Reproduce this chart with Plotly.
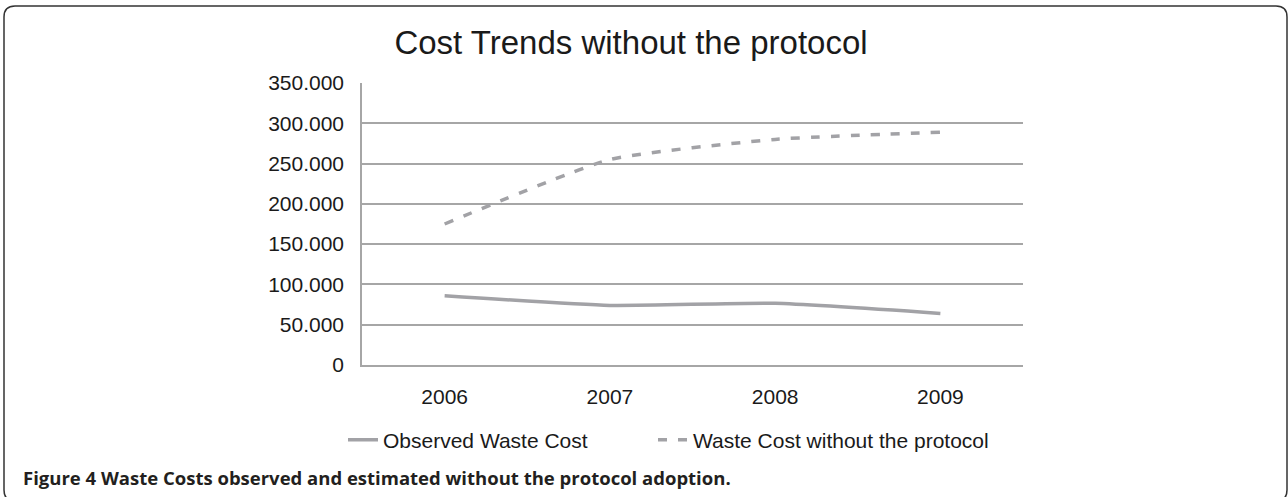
import plotly.graph_objects as go

years = ["2006", "2007", "2008", "2009"]
observed = [86000, 74000, 76500, 64000]
without_protocol = [175000, 255000, 280000, 289000]
y_ticks = [0, 50000, 100000, 150000, 200000, 250000, 300000, 350000]
y_tick_labels = ["0", "50.000", "100.000", "150.000", "200.000", "250.000", "300.000", "350.000"]

W, H = 1288, 497
L, R, T, B = 362, 265, 83, 132
pw, ph = W - L - R, H - T - B

def px(x):
    return (x - L) / pw

def py(y):
    return (H - B - y) / ph

gray = "#a2a2a6"
grid = "#a6a6a6"
font = "Liberation Sans, Arial, sans-serif"

fig = go.Figure()
fig.add_trace(go.Scatter(x=years, y=observed, name="Observed Waste Cost", mode="lines",
                         line=dict(color=gray, width=3.5, shape="spline", smoothing=0.5),
                         legend="legend"))
fig.add_trace(go.Scatter(x=years, y=without_protocol, name="Waste Cost without the protocol", mode="lines",
                         line=dict(color=gray, width=3.5, dash="9px,11px", shape="spline", smoothing=0.5),
                         legend="legend2"))

# rounded outer frame
x0, x1, y0, y1, r = 4, 1287, 6, 501, 11
path = (f"M {px(x0+r)},{py(y0)} L {px(x1-r)},{py(y0)} Q {px(x1)},{py(y0)} {px(x1)},{py(y0+r)} "
        f"L {px(x1)},{py(y1-r)} Q {px(x1)},{py(y1)} {px(x1-r)},{py(y1)} "
        f"L {px(x0+r)},{py(y1)} Q {px(x0)},{py(y1)} {px(x0)},{py(y1-r)} "
        f"L {px(x0)},{py(y0+r)} Q {px(x0)},{py(y0)} {px(x0+r)},{py(y0)} Z")
fig.add_shape(type="path", path=path, xref="paper", yref="paper",
              line=dict(color="#333333", width=1.5), layer="above")

fig.add_annotation(text="<b>Figure 4 Waste Costs observed and estimated without the protocol adoption.</b>",
                   xref="paper", yref="paper", x=px(21), y=py(477), xanchor="left", yanchor="middle",
                   showarrow=False, font=dict(family="Open Sans, sans-serif", size=18.5, color="#231f20"))

legend_common = dict(orientation="h", xanchor="left", yanchor="middle", y=py(440),
                     font=dict(family=font, size=21, color="#1a1a1a"), bgcolor="rgba(0,0,0,0)")

fig.update_layout(
    width=W, height=H,
    margin=dict(l=L, r=R, t=T, b=B, pad=0),
    paper_bgcolor="white", plot_bgcolor="white",
    title=dict(text="Cost Trends without the protocol", x=px(631), xref="paper", xanchor="center",
               y=1 - 42 / H, yanchor="middle", font=dict(family=font, size=33, color="#1a1a1a")),
    font=dict(family=font, size=21, color="#1a1a1a"),
    showlegend=True,
    legend=dict(x=px(343), **legend_common),
    legend2=dict(x=px(653), **legend_common),
)
fig.update_xaxes(type="category", range=[-0.5, 3.5], showgrid=False, showline=True, linecolor=grid,
                 linewidth=1.5, ticks="", ticklabelstandoff=12, tickfont=dict(size=21))
fig.update_yaxes(range=[0, 350000], tickvals=y_ticks, ticktext=y_tick_labels, showgrid=True,
                 gridcolor=grid, gridwidth=1.5, showline=True, linecolor=grid, linewidth=1.5,
                 zeroline=False, ticks="", ticklabelstandoff=12, tickfont=dict(size=21))

fig.write_html("out.html", config={"displayModeBar": False},
               post_script="document.body.style.margin='0';document.body.style.overflow='hidden';")
